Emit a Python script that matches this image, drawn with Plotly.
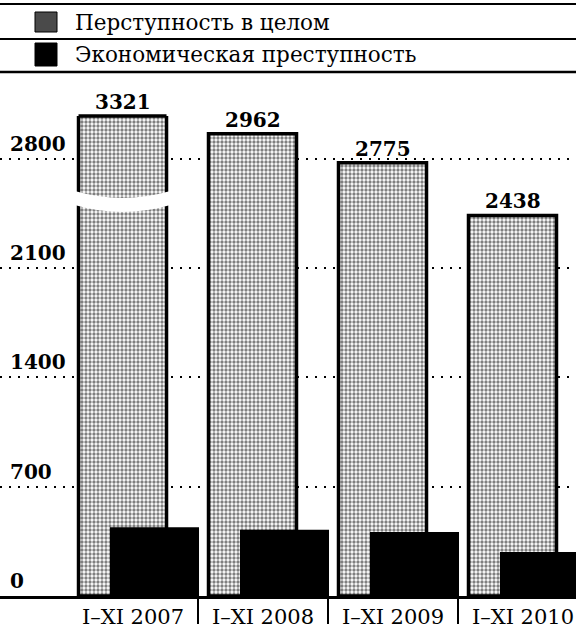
import plotly.graph_objects as go

# ---- data ----
categories = ["I–XI 2007", "I–XI 2008", "I–XI 2009", "I–XI 2010"]
total_crime = [3321, 2962, 2775, 2438]
economic_crime = [440, 425, 410, 282]
series_names = ["Перступность в целом", "Экономическая преступность"]
y_ticks = [0, 700, 1400, 2100, 2800]

# ---- layout constants ----
W, H = 576, 624
M_T, M_B = 116, 28
PLOT_H = H - M_T - M_B
Y_MAX = 3075          # axis is cut here (first bar is drawn broken)
X_RANGE = [-1.023, 3.408]
G_OFF, G_W = -0.419, 0.677
B_OFF, B_W = -0.177, 0.685
SERIF = "DejaVu Serif"


def xp(px):
    return px / W


def yp(py):
    return (H - M_B - py) / PLOT_H


x_idx = list(range(len(categories)))

fig = go.Figure()
fig.add_bar(
    x=x_idx, y=total_crime, offset=G_OFF, width=G_W, name=series_names[0],
    marker=dict(color="white", line=dict(color="black", width=3.5),
                pattern=dict(shape=".", fgcolor="black", bgcolor="white",
                             size=4, solidity=0.55)),
    showlegend=False, hoverinfo="skip",
)
fig.add_bar(
    x=x_idx, y=economic_crime, offset=B_OFF, width=B_W, name=series_names[1],
    marker=dict(color="black", line=dict(color="black", width=0)),
    showlegend=False, hoverinfo="skip",
)

annotations = []
shapes = []

# y tick labels above gridlines
for v in y_ticks:
    annotations.append(dict(
        x=xp(8), xref="paper", y=v, yref="y", text=str(v), showarrow=False,
        xanchor="left", yanchor="middle", yshift=15,
        font=dict(family=SERIF, size=20, color="black", weight="bold")))

# value labels above gray bars
for i, v in zip(x_idx, total_crime):
    annotations.append(dict(
        x=i + G_OFF + G_W / 2, xref="x", y=min(v, Y_MAX), yref="y",
        text=str(v), showarrow=False, xanchor="center", yanchor="middle",
        yshift=14, font=dict(family=SERIF, size=20, color="black", weight="bold")))
    if v > Y_MAX:
        shapes.append(dict(type="line", xref="x", yref="paper",
                           x0=i + G_OFF, x1=i + G_OFF + G_W, y0=1, y1=1,
                           line=dict(color="black", width=3.5)))
        bx0 = i + G_OFF - 0.03
        bx1 = i + G_OFF + G_W + 0.03
        cx = i + G_OFF + G_W / 2
        shapes.append(dict(
            type="path", xref="x", yref="y",
            path=f"M {bx0},2594 Q {cx},2506 {bx1},2594 L {bx1},2505 Q {cx},2415 {bx0},2505 Z",
            fillcolor="white", line=dict(width=0), layer="above"))

# legend block
for y, w in [(4, 2), (39, 2), (72, 2.5)]:
    shapes.append(dict(type="line", xref="paper", yref="paper",
                       x0=0, x1=1, y0=yp(y), y1=yp(y),
                       line=dict(color="black", width=w)))
shapes.append(dict(type="rect", xref="paper", yref="paper",
                   x0=xp(35), x1=xp(57), y0=yp(32), y1=yp(12),
                   fillcolor="#4a4a4a", line=dict(color="black", width=1)))
shapes.append(dict(type="rect", xref="paper", yref="paper",
                   x0=xp(35), x1=xp(57), y0=yp(66), y1=yp(43),
                   fillcolor="black", line=dict(color="black", width=1)))
for name, y in zip(series_names, [22, 55]):
    annotations.append(dict(
        x=xp(73), xref="paper", y=yp(y), yref="paper", text=name,
        showarrow=False, xanchor="left", yanchor="middle",
        font=dict(family=SERIF, size=21.5, color="black")))

fig.update_layout(
    width=W, height=H, margin=dict(l=0, r=0, t=M_T, b=M_B, pad=0),
    paper_bgcolor="white", plot_bgcolor="white", barmode="overlay",
    showlegend=False, annotations=annotations, shapes=shapes,
)
fig.update_xaxes(
    range=X_RANGE, showgrid=False, zeroline=False, showline=True,
    linecolor="black", linewidth=3, tickvals=x_idx, ticktext=categories,
    ticks="", automargin=False,
    tickfont=dict(family=SERIF, size=21, color="black"),
    minor=dict(tickvals=[i + 0.5 for i in x_idx[:-1]], ticks="outside",
               ticklen=30, tickwidth=1.5, tickcolor="black", showgrid=False),
)
fig.update_yaxes(
    range=[0, Y_MAX], tickvals=y_ticks, showticklabels=False, showgrid=True,
    gridcolor="black", gridwidth=2, griddash="2px,7px", zeroline=False,
    showline=False, ticks="", automargin=False,
)

fig.write_html("out.html", config={"displayModeBar": False},
               post_script="document.body.style.margin='0';document.body.style.overflow='hidden';")
